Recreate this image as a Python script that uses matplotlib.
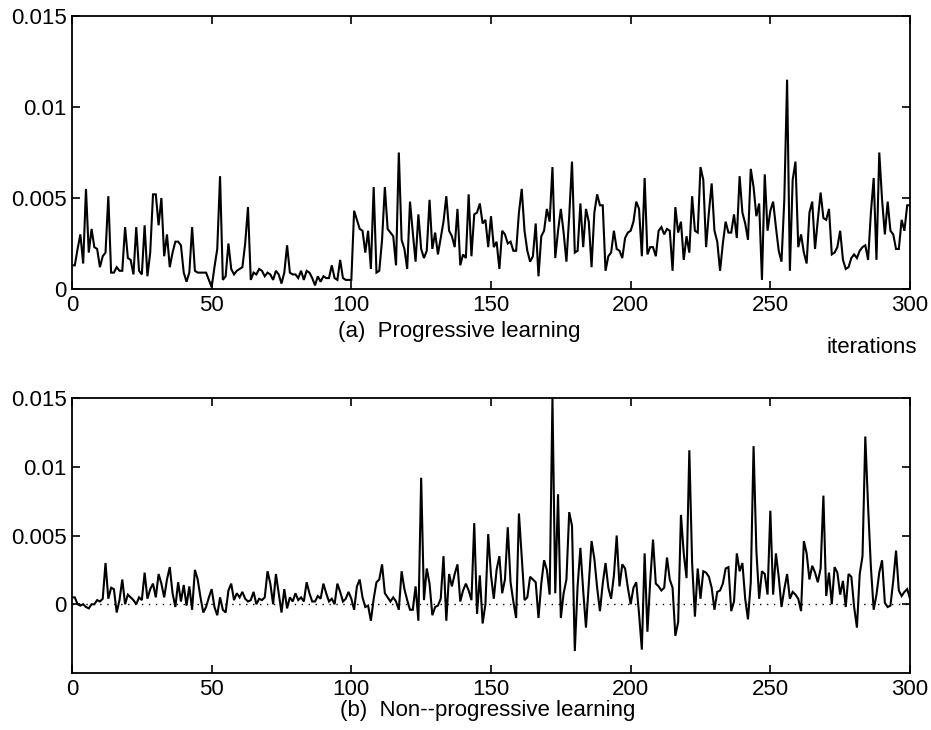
import matplotlib
matplotlib.use("Agg")
import matplotlib.pyplot as plt
import numpy as np

plt.rcParams['font.family'] = ['Liberation Sans', 'DejaVu Sans']

# values are in units of 1e-4
UNIT = 1e-4
iterations = list(range(0, 301))

progressive_e4 = [
    13, 13, 22, 30, 14, 55, 20, 33, 23, 22,
    12, 18, 20, 51, 9, 9, 12, 10, 10, 34,
    17, 16, 8, 34, 10, 8, 35, 7, 20, 52,
    52, 35, 50, 18, 30, 12, 20, 26, 26, 24,
    9, 4, 9, 34, 10, 9, 9, 9, 9, 5,
    1, 12, 22, 62, 5, 7, 25, 11, 8, 10,
    11, 12, 25, 45, 5, 9, 8, 11, 10, 7,
    9, 8, 5, 10, 8, 3, 9, 24, 9, 8,
    8, 6, 10, 5, 10, 9, 6, 2, 7, 4,
    7, 6, 6, 13, 6, 5, 16, 6, 5, 5,
    5, 43, 38, 33, 32, 20, 32, 11, 56, 9,
    10, 27, 56, 33, 31, 29, 13, 75, 27, 22,
    11, 48, 31, 15, 41, 22, 17, 21, 49, 22,
    31, 19, 28, 37, 51, 32, 29, 23, 44, 13,
    19, 17, 52, 18, 41, 42, 47, 36, 38, 23,
    40, 23, 26, 11, 32, 30, 25, 26, 21, 21,
    42, 55, 32, 21, 15, 18, 36, 7, 29, 32,
    44, 37, 67, 17, 32, 44, 31, 15, 40, 70,
    20, 21, 47, 23, 44, 37, 12, 42, 52, 46,
    46, 10, 18, 20, 32, 22, 21, 17, 28, 31,
    32, 37, 48, 44, 18, 61, 19, 23, 23, 18,
    32, 34, 30, 33, 32, 10, 45, 31, 37, 16,
    29, 20, 51, 32, 31, 67, 60, 23, 42, 58,
    32, 26, 10, 25, 37, 31, 31, 41, 28, 62,
    42, 36, 27, 66, 56, 40, 47, 5, 63, 32,
    43, 48, 34, 21, 15, 49, 115, 10, 60, 70,
    23, 30, 20, 14, 42, 48, 22, 38, 53, 39,
    38, 44, 19, 20, 23, 32, 16, 11, 12, 17,
    19, 17, 21, 23, 24, 16, 42, 61, 16, 75,
    49, 30, 48, 32, 30, 22, 22, 38, 32, 46,
    46,
]

nonprogressive_e4 = [
    5, 5, 0, -1, 0, -2, -3, 0, 0, 3,
    2, 4, 30, 4, 12, 11, -6, 3, 18, 0,
    7, 5, 3, 0, 5, 3, 23, 4, 11, 15,
    5, 22, 15, 5, 18, 27, 8, -2, 16, 2,
    14, -1, 13, -4, 25, 18, 5, -6, -2, 5,
    11, -2, -8, 5, -4, -6, 10, 15, 3, 8,
    5, 9, 4, 2, 3, 9, 0, 4, 3, 5,
    24, 15, 0, 22, 8, -6, 11, -3, 5, 2,
    8, 3, 5, 2, 16, 8, 2, 2, 6, 4,
    15, 8, 2, 4, 0, 15, 9, 2, 4, 9,
    4, -4, 13, 18, 5, -2, -1, -12, 4, 16,
    18, 29, 8, 5, 2, 5, 2, -4, 24, 11,
    3, -4, -4, 13, -12, 92, 3, 26, 15, -8,
    -2, -1, 4, 35, -12, 22, 13, 22, 29, 2,
    10, 15, 10, 3, 59, -7, 21, -14, 0, 51,
    21, 4, 25, 35, 8, 18, 56, 16, 2, -10,
    66, 35, 3, 5, 20, 18, 16, -10, 15, 32,
    25, 7, 150, 8, 80, -10, 8, 18, 67, 57,
    -34, 13, 41, 10, -17, 15, 46, 33, 12, -5,
    15, 30, 12, 4, 21, 50, 13, 29, 26, 12,
    0, 12, 16, -7, -33, 37, -20, 17, 47, 15,
    13, 10, 12, 34, 18, 12, -23, -13, 65, 37,
    19, 112, 30, -9, 26, 4, 24, 23, 20, 12,
    -4, 9, 10, 15, 26, 27, -5, 2, 37, 24,
    30, 4, -11, 16, 115, 39, 4, 24, 22, 7,
    68, 7, 37, 20, -2, 11, 22, 4, 9, 7,
    4, -5, 46, 37, 18, 28, 23, 16, 26, 79,
    6, 23, 0, 27, 23, 7, 17, -2, 22, 20,
    -2, -17, 22, 35, 122, 71, 27, -4, 7, 23,
    32, 1, -2, -1, 17, 39, 10, 6, 9, 11,
    4,
]

x_ticks = [0, 50, 100, 150, 200, 250, 300]
y_ticks = [0, 0.005, 0.01, 0.015]
y_ticklabels = ["0", "0.005", "0.01", "0.015"]
label_a = "(a)  Progressive learning"
label_b = "(b)  Non--progressive learning"
label_x = "iterations"

FS = 16
W, H = 931, 730
fig = plt.figure(figsize=(W / 100, H / 100), dpi=100)

ax1 = fig.add_axes([72 / W, 1 - 289 / H, (910 - 72) / W, (289 - 16) / H])
ax2 = fig.add_axes([72 / W, 1 - 673 / H, (910 - 72) / W, (673 - 398) / H])

x = np.array(iterations)
y1 = np.array(progressive_e4) * UNIT
y2 = np.array(nonprogressive_e4) * UNIT

ax1.plot(x, y1, color='black', lw=1.5, solid_joinstyle='miter')
ax1.set_ylim(0, 0.015)

ax2.axhline(0, color='black', lw=1.0, ls=(0, (1, 4)))
ax2.plot(x, y2, color='black', lw=1.5, solid_joinstyle='miter')
ax2.set_ylim(-0.005, 0.015)

for ax in (ax1, ax2):
    ax.set_xlim(0, 300)
    ax.set_xticks(x_ticks)
    ax.set_xticklabels([str(t) for t in x_ticks])
    ax.set_yticks(y_ticks)
    ax.set_yticklabels(y_ticklabels)
    ax.tick_params(direction='in', top=True, right=True, length=6, width=1.2,
                   labelsize=FS, pad=4)
    for s in ax.spines.values():
        s.set_linewidth(1.3)

fig.text(338 / W, 1 - 337 / H, label_a, fontsize=FS, ha='left', va='baseline')
fig.text(827 / W, 1 - 353 / H, label_x, fontsize=FS, ha='left', va='baseline')
fig.text(340 / W, 1 - 716 / H, label_b, fontsize=FS, ha='left', va='baseline')

fig.savefig("out.png", dpi=100)
